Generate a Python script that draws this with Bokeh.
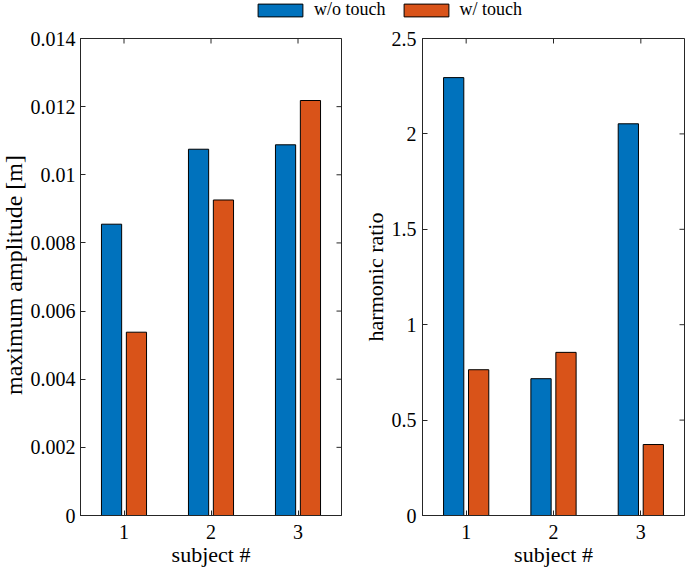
import math
from bokeh.plotting import figure
from bokeh.layouts import column, row
from bokeh.models import ColumnDataSource, Range1d, FixedTicker
from bokeh.core.properties import value
from bokeh.transform import dodge
from bokeh.embed import file_html
from bokeh.resources import INLINE

# data
subjects = [1, 2, 3]
amp_without = [0.00855, 0.01075, 0.01088]
amp_with = [0.00538, 0.00926, 0.01218]
ratio_without = [2.295, 0.717, 2.053]
ratio_with = [0.764, 0.855, 0.372]

amp_ticks = [0, 0.002, 0.004, 0.006, 0.008, 0.01, 0.012, 0.014]
amp_labels = ["0", "0.002", "0.004", "0.006", "0.008", "0.01", "0.012", "0.014"]
ratio_ticks = [0, 0.5, 1, 1.5, 2, 2.5]
ratio_labels = ["0", "0.5", "1", "1.5", "2", "2.5"]

BLUE = "#0072BD"
ORANGE = "#D95319"
AXC = "#262626"
FONT = "Liberation Serif"
TOP, BOTTOM, HEIGHT = 18, 57, 552


def make_panel(width, left, right, ymax, ticks, labels, y1, y2):
    p = figure(width=width, height=HEIGHT, output_backend="svg", toolbar_location=None,
               x_range=Range1d(0.5, 3.5), y_range=Range1d(0, ymax),
               min_border_left=left, min_border_right=right,
               min_border_top=TOP, min_border_bottom=BOTTOM)
    p.grid.visible = False
    p.outline_line_color = AXC
    p.outline_line_width = 1

    src = ColumnDataSource(dict(x=subjects, a=y1, b=y2))
    p.vbar(x=dodge("x", -0.143, range=p.x_range), top="a", width=0.232, source=src,
           fill_color=BLUE, line_color="black", line_width=1)
    p.vbar(x=dodge("x", 0.143, range=p.x_range), top="b", width=0.232, source=src,
           fill_color=ORANGE, line_color="black", line_width=1)

    # mirrored inner ticks on the right and top edges of the box
    right_src = ColumnDataSource(dict(x=[p.x_range.end] * len(ticks), y=ticks))
    top_src = ColumnDataSource(dict(x=subjects, y=[ymax] * len(subjects)))
    p.scatter("x", "y", source=right_src, marker="dash", size=10,
              line_color=AXC, line_width=1)
    p.scatter("x", "y", source=top_src, marker="dash", size=10, angle=math.pi / 2,
              line_color=AXC, line_width=1)

    p.xaxis.ticker = FixedTicker(ticks=subjects)
    p.yaxis.ticker = FixedTicker(ticks=ticks)
    p.yaxis.major_label_overrides = {t: s for t, s in zip(ticks, labels)}
    p.xaxis.axis_label = "subject #"

    for ax in p.axis:
        ax.axis_line_color = AXC
        ax.major_tick_line_color = AXC
        ax.major_tick_in = 5
        ax.major_tick_out = 0
        ax.minor_tick_line_color = None
        ax.major_label_text_font = FONT
        ax.major_label_text_font_size = "20px"
        ax.major_label_text_color = "black"
        ax.axis_label_text_font = FONT
        ax.axis_label_text_font_size = "22px"
        ax.axis_label_text_font_style = "normal"
        ax.axis_label_text_color = "black"
    p.yaxis.major_label_standoff = 6
    p.yaxis.axis_label_standoff = 1
    p.xaxis.major_label_standoff = 9
    p.xaxis.axis_label_standoff = 0
    return p


p1 = make_panel(323, 50, 9, 0.014, amp_ticks, amp_labels, amp_without, amp_with)
p1.yaxis.major_label_standoff = 5
p2 = make_panel(335, 72, 1, 2.5, ratio_ticks, ratio_labels, ratio_without, ratio_with)
p2.yaxis.axis_label = "harmonic ratio"

# the left title is bigger and sits right at the page edge: own narrow strip
yl = figure(width=27, height=HEIGHT, output_backend="svg", toolbar_location=None,
            x_range=Range1d(0, 1), y_range=Range1d(0, 1),
            x_axis_type=None, y_axis_type=None,
            min_border_left=0, min_border_right=0,
            min_border_top=TOP, min_border_bottom=BOTTOM)
yl.grid.visible = False
yl.outline_line_color = None
yl.text(x=[0.5], y=[0.5], text=["maximum amplitude [m]"], angle=math.pi / 2,
        text_align="center", text_baseline="middle", y_offset=-2,
        text_font=value(FONT), text_font_size="24px", text_color="black")

# legend strip on top; the legend swatches come from two off-range bars
lg = figure(width=685, height=20, output_backend="svg", toolbar_location=None,
            x_range=Range1d(0, 1), y_range=Range1d(0, 1),
            x_axis_type=None, y_axis_type=None,
            min_border=0, min_border_left=0, min_border_right=0,
            min_border_top=0, min_border_bottom=0)
lg.grid.visible = False
lg.outline_line_color = None
lg.vbar(x=[-5], top=[0], width=0.1, fill_color=BLUE, line_color="black", legend_label="w/o touch")
lg.vbar(x=[-5], top=[0], width=0.1, fill_color=ORANGE, line_color="black", legend_label="w/ touch")
lg.legend.orientation = "horizontal"
lg.legend.location = (252, 0)
lg.legend.padding = 0
lg.legend.margin = 0
lg.legend.spacing = 12
lg.legend.label_standoff = 6
lg.legend.glyph_width = 56
lg.legend.glyph_height = 16
lg.legend.label_height = 16
lg.legend.label_text_font = FONT
lg.legend.label_text_font_size = "18px"
lg.legend.label_text_color = "black"
lg.legend.border_line_color = None
lg.legend.background_fill_alpha = 0

layout = column(lg, row(yl, p1, p2))
open("out.html", "w").write(file_html(layout, INLINE))
